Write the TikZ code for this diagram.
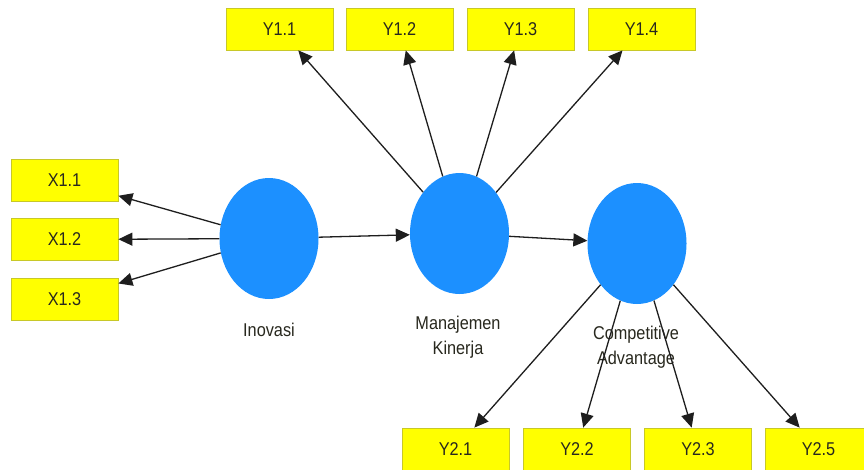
\documentclass[tikz,border=0pt]{standalone}
\usepackage{fontspec}
\setmainfont{Liberation Sans}[FakeStretch=0.88]
\usetikzlibrary{shapes.geometric,arrows.meta}
\definecolor{lvblue}{RGB}{28,144,255}
\definecolor{indyel}{RGB}{255,255,0}
\definecolor{indbord}{RGB}{200,200,40}
\definecolor{linegray}{RGB}{30,30,30}
\definecolor{txt}{RGB}{40,40,30}
\begin{document}
\begin{tikzpicture}[x=1pt,y=-1pt,
  indbox/.style={draw=indbord,line width=0.8pt,fill=indyel,minimum width=107pt,minimum height=42pt,inner sep=0pt,font=\fontsize{18.5}{20}\selectfont,text=txt},
  latent/.style={ellipse,fill=lvblue,draw=none,minimum width=99pt,minimum height=121pt,inner sep=0pt},
  lvlabel/.style={font=\fontsize{18.5}{25}\selectfont,text=txt,align=center,inner sep=0pt},
  arr/.style={draw=linegray,line width=1.3pt,-{Triangle[length=14pt,width=13pt]},shorten >=0pt}]
\useasboundingbox (0,0) rectangle (864,469);
\fill[white] (0,0) rectangle (864,469);
% latent variables
\node[latent] (inov) at (269,238.5) {};
\node[latent] (mk) at (459.5,233.5) {};
\node[latent] (ca) at (637,243.5) {};
\node[lvlabel] (inovl) at (269,330) {Inovasi};
\node[lvlabel] (mkl) at (458,337.5) {Manajemen\\Kinerja};
\node[lvlabel] (cal) at (636,347.5) {Competitive\\Advantage};
% indicators
\node[indbox] (x11) at (64.5,180.5) {X1.1};
\node[indbox] (x12) at (64.5,239.5) {X1.2};
\node[indbox] (x13) at (64.5,299.5) {X1.3};
\node[indbox] (y11) at (279.5,29) {Y1.1};
\node[indbox] (y12) at (399.5,29) {Y1.2};
\node[indbox] (y13) at (520.5,29) {Y1.3};
\node[indbox] (y14) at (641.5,29) {Y1.4};
\node[indbox] (y21) at (455.5,449) {Y2.1};
\node[indbox] (y22) at (577,449) {Y2.2};
\node[indbox] (y23) at (698,449) {Y2.3};
\node[indbox] (y25) at (818.5,449) {Y2.5};
% connectors
\draw[arr] (inov) -- (x11);
\draw[arr] (inov) -- (x12);
\draw[arr] (inov) -- (x13);
\draw[arr] (inov) -- (mk);
\draw[arr] (mk) -- (ca);
\draw[arr] (mk) -- (y11);
\draw[arr] (mk) -- (y12);
\draw[arr] (mk) -- (y13);
\draw[arr] (mk) -- (y14);
\draw[arr] (ca) -- (y21);
\draw[arr] (ca) -- (y22);
\draw[arr] (ca) -- (y23);
\draw[arr] (ca) -- (y25);
\end{tikzpicture}
\end{document}
